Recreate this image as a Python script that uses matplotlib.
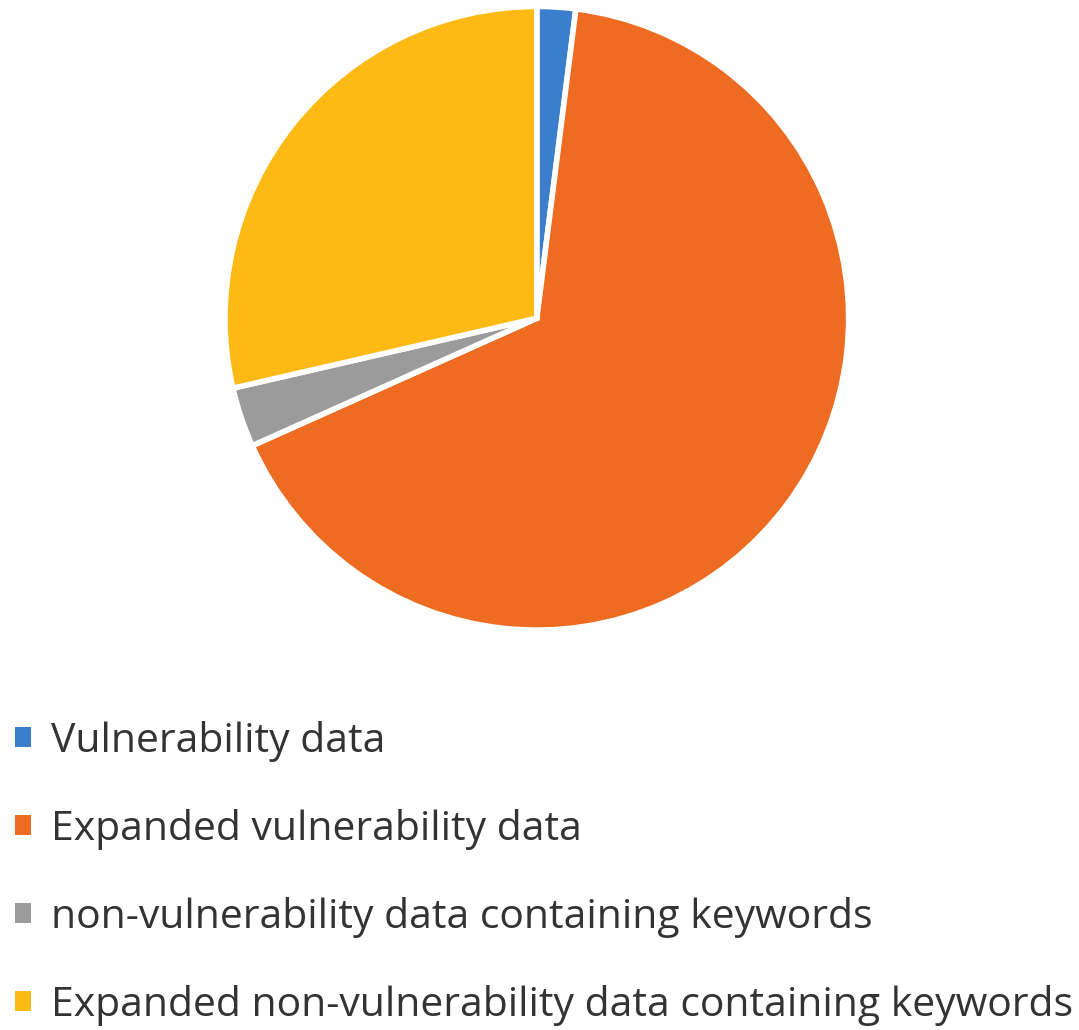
import matplotlib
matplotlib.use("Agg")
import matplotlib.pyplot as plt
from matplotlib.patches import Patch

labels = [
    "Vulnerability data",
    "Expanded vulnerability data",
    "non-vulnerability data containing keywords",
    "Expanded non-vulnerability data containing keywords",
]
shares = [2.0, 66.3, 3.1, 28.6]
colors = ["#3b7fcc", "#ee6b22", "#9b9b9b", "#fdb914"]

plt.rcParams["font.family"] = ["Open Sans", "DejaVu Sans"]

fig = plt.figure(figsize=(10.79, 10.30), dpi=100)
ax = fig.add_axes([0.2085, 0.388, 0.578, 0.606])
ax.pie(
    shares,
    colors=colors,
    startangle=90,
    counterclock=False,
    wedgeprops=dict(edgecolor="white", linewidth=4),
)
ax.set_xlim(-1.0, 1.0)
ax.set_ylim(-1.0, 1.0)
ax.set_aspect("equal")

handles = [Patch(facecolor=c, edgecolor="none") for c in colors]
fig.legend(
    handles,
    labels,
    loc="upper left",
    bbox_to_anchor=(15 / 1079, 0.300),
    frameon=False,
    fontsize=29.4,
    borderpad=0,
    borderaxespad=0,
    handlelength=0.38,
    handleheight=0.38,
    handletextpad=0.49,
    labelspacing=1.15,
    labelcolor="#333333",
)

fig.savefig("out.png", dpi=100)
